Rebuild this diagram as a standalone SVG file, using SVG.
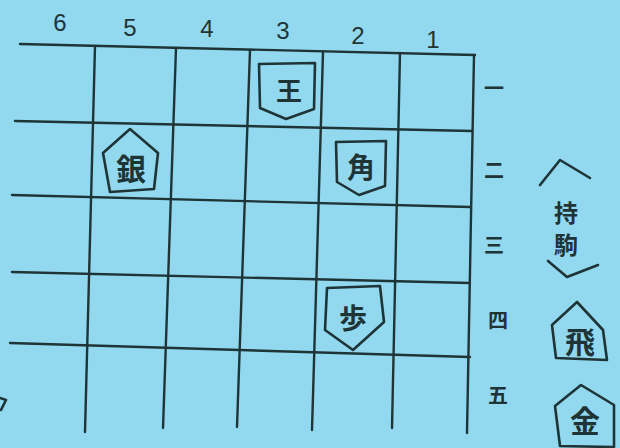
<svg xmlns="http://www.w3.org/2000/svg" width="620" height="448" viewBox="0 0 620 448">
<style>
.ink{fill:none;stroke:#1f3436;stroke-width:2.6;stroke-linecap:round;stroke-linejoin:round}
.grid{fill:none;stroke:#1f3436;stroke-width:2.4;stroke-linecap:round}
.num{font-family:"Liberation Sans","Noto Sans CJK JP",sans-serif;font-size:24px;fill:#1f3436;text-anchor:middle}
.kan{font-family:"Noto Sans CJK JP","Noto Sans CJK SC",sans-serif;fill:#1f3436;text-anchor:middle;font-weight:bold}
.pc{font-family:"Noto Sans CJK JP","Noto Sans CJK SC",sans-serif;fill:#1f3436;text-anchor:middle;font-weight:bold}
</style>
<rect width="620" height="448" fill="#92d9ef"/>
<g id="grid">
<path class="grid" d="M20 44 L475 55"/>
<path class="grid" d="M15 121 L472 131"/>
<path class="grid" d="M12 195 L470 207"/>
<path class="grid" d="M12 272 L470 283"/>
<path class="grid" d="M10 343 L470 357"/>
<path class="grid" d="M95 46 L85 432"/>
<path class="grid" d="M176 48 L163 428"/>
<path class="grid" d="M250 50 L237 427"/>
<path class="grid" d="M323 52 L312 430"/>
<path class="grid" d="M400 53 L392 428"/>
<path class="grid" d="M474 55 L467 433"/>
<path class="ink" d="M0 398 L6 400 L1 410"/>
</g>
<g id="col-labels">
<text class="num" x="60" y="31">6</text>
<text class="num" x="130" y="36">5</text>
<text class="num" x="207" y="37">4</text>
<text class="num" x="283" y="39">3</text>
<text class="num" x="358" y="44">2</text>
<text class="num" x="433" y="48">1</text>
</g>
<g id="row-labels">
<text class="kan" x="494" y="96" font-size="20">一</text>
<text class="kan" x="494" y="178" font-size="20">二</text>
<text class="kan" x="494" y="253" font-size="20">三</text>
<text class="kan" x="498" y="328" font-size="20">四</text>
<text class="kan" x="498" y="403" font-size="20">五</text>
</g>
<g id="piece-3-1">
<path class="ink" d="M259 64 L315 63 L314 109 L286 119 L260 108 Z"/>
<text class="pc" x="289" y="101" font-size="26">王</text>
</g>
<g id="piece-2-2">
<path class="ink" d="M336 142 L386 141 L385 186 L359 195 L337 182 Z"/>
<text class="pc" x="361" y="178" font-size="28">角</text>
</g>
<g id="piece-5-2">
<path class="ink" d="M130 129 L103 153 L110 192 L154 189 L158 153 Z"/>
<text class="pc" x="131" y="180" font-size="30">銀</text>
</g>
<g id="piece-2-4">
<path class="ink" d="M327 288 L380 286 L384 322 L353 350 L325 330 Z"/>
<text class="pc" x="353" y="329" font-size="28">歩</text>
</g>
<g id="mochigoma">
<path class="ink" d="M540 185 L560 160 L590 178"/>
<text class="kan" x="566" y="222" font-size="24">持</text>
<text class="kan" x="566" y="254" font-size="24">駒</text>
<path class="ink" d="M548 261 L567 277 L598 265"/>
</g>
<g id="hand-hi">
<path class="ink" d="M577 302 L552 325 L556 358 L607 360 L603 330 Z"/>
<text class="pc" x="580" y="353" font-size="30">飛</text>
</g>
<g id="hand-kin">
<path class="ink" d="M581 385 L555 406 L560 446 L614 447 L614 405 Z"/>
<text class="pc" x="585" y="432" font-size="30">金</text>
</g>
</svg>
